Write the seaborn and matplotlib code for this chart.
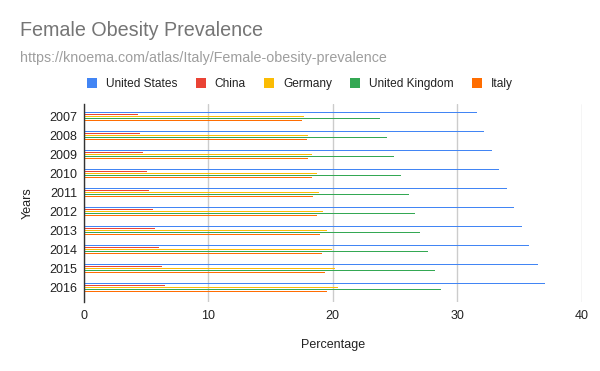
import pandas as pd
import matplotlib.pyplot as plt
import seaborn as sns
from matplotlib.patches import Patch

# === Data ===
years = ['2007', '2008', '2009', '2010', '2011', '2012', '2013', '2014', '2015', '2016']
countries = ['United States', 'China', 'Germany', 'United Kingdom', 'Italy']
united_states = [31.6, 32.15, 32.8, 33.35, 34.0, 34.55, 35.2, 35.8, 36.5, 37.05]
china = [4.33, 4.5, 4.73, 5.05, 5.2, 5.55, 5.7, 6.0, 6.25, 6.5]
germany = [17.7, 18.05, 18.35, 18.7, 18.9, 19.25, 19.55, 19.9, 20.15, 20.45]
united_kingdom = [23.8, 24.35, 24.95, 25.45, 26.1, 26.6, 27.05, 27.65, 28.2, 28.7]
italy = [17.55, 17.9, 18.05, 18.3, 18.45, 18.7, 18.95, 19.15, 19.35, 19.55]
colors = ['#4285f4', '#ea4335', '#fbbc04', '#34a853', '#ff6d01']

# === Long-form table ===
series = [united_states, china, germany, united_kingdom, italy]
rows = []
for name, vals in zip(countries, series):
    for y, v in zip(years, vals):
        rows.append({'Years': y, 'Country': name, 'Percentage': v})
df = pd.DataFrame(rows)

# === Style ===
sns.set_theme(style="white")
plt.rcParams['font.family'] = ['Liberation Sans', 'DejaVu Sans']

fig = plt.figure(figsize=(6, 3.71), dpi=100)
ax = fig.add_axes([84 / 600, 1 - 302 / 371, 497.5 / 600, 198 / 371])

sns.barplot(data=df, x='Percentage', y='Years', hue='Country', order=years,
            hue_order=countries, palette=colors, orient='h', width=0.51,
            legend=False, ax=ax, saturation=1)

# thin bars like the original
for p in ax.patches:
    h = p.get_height()
    p.set_y(p.get_y() + h * 0.25)
    p.set_height(h * 0.5)
    p.set_linewidth(0)

ax.set_xlim(0, 40)
ax.set_ylim(9.75, -0.67)
ax.set_xticks([0, 10, 20, 30, 40])
ax.grid(True, axis='x', color='#cccccc', linewidth=1)
ax.set_axisbelow(True)
for s in ['top', 'right', 'bottom']:
    ax.spines[s].set_visible(False)
ax.spines['left'].set_color('#333333')
ax.spines['left'].set_linewidth(1)
ax.tick_params(axis='both', length=0, labelsize=9, labelcolor='#222222')
ax.tick_params(axis='x', pad=6)
ax.tick_params(axis='y', pad=5)
ax.set_xlabel('Percentage', fontsize=9, color='#222222', labelpad=12)
ax.set_ylabel('Years', fontsize=9, color='#222222', labelpad=11)

# === Titles ===
fig.text(20 / 600, 1 - 31 / 371, 'Female Obesity Prevalence', fontsize=14.2,
         color='#757575', va='center', ha='left')
fig.text(20 / 600, 1 - 58 / 371, 'https://knoema.com/atlas/Italy/Female-obesity-prevalence',
         fontsize=10.3, color='#9e9e9e', va='center', ha='left')

# === Legend ===
handles = [Patch(facecolor=c, edgecolor='none') for c in colors]
fig.legend(handles, countries, loc='center', bbox_to_anchor=(300 / 600, 1 - 84 / 371),
           ncol=5, frameon=False, fontsize=8.6, handlelength=0.85, handleheight=0.85,
           handletextpad=0.75, columnspacing=1.5, labelcolor='#222222')

fig.savefig('out.png', dpi=100)
